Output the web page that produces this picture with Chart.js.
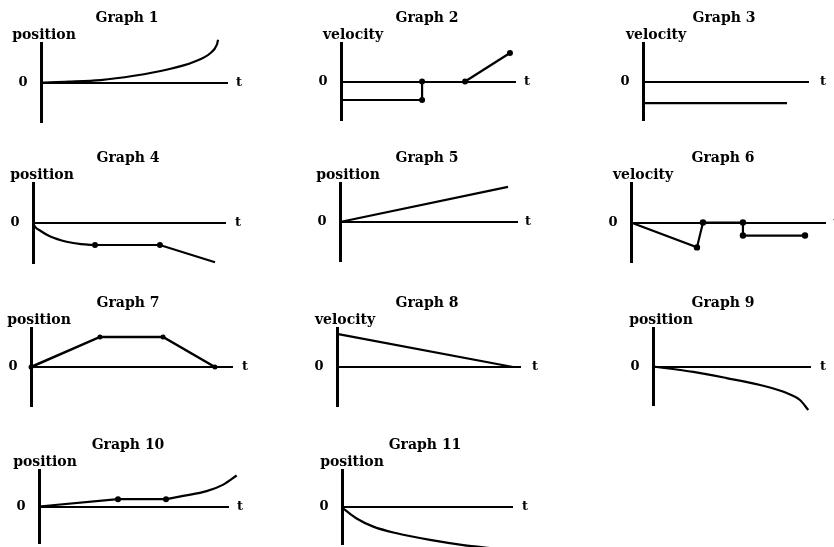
<!DOCTYPE html>
<html><head><meta charset="utf-8">
<script src="https://cdn.jsdelivr.net/npm/chart.js@4/dist/chart.umd.min.js"></script>
<style>
html,body{margin:0;padding:0;background:#fff;}
#wrap{position:relative;width:834px;height:547px;overflow:hidden;background:#fff;}
#wrap canvas{position:absolute;left:0;top:0;}
</style></head><body><div id="wrap"></div>
<script>
// ---------- DATA (t in axis units 0..10, value in -1..1) ----------
const graphTitles = ["Graph 1","Graph 2","Graph 3","Graph 4","Graph 5","Graph 6","Graph 7","Graph 8","Graph 9","Graph 10","Graph 11"];
const yAxisLabels = ["position","velocity","velocity","position","position","velocity","position","velocity","position","position","position"];
const zeroLabel = "0";
const timeLabel = "t";

const g1CurveT = [0, 1.5, 3.2, 5, 6.8, 8.2, 9.1, 9.45, 9.52];
const g1CurveY = [0, 0.02, 0.06, 0.17, 0.33, 0.52, 0.74, 0.95, 1.08];

const g2LowT = [0, 4.66, 4.66];
const g2LowY = [-0.48, -0.48, 0];
const g2RiseT = [7.13, 9.71];
const g2RiseY = [0, 0.74];
const g2DotT = [4.66, 4.66, 7.13, 9.71];
const g2DotY = [0, -0.48, 0, 0.74];

const g3T = [0, 8.73];
const g3Y = [-0.56, -0.56];

const g4CurveT = [0, 0.1, 0.4, 0.9, 1.75, 2.5, 3.23];
const g4CurveY = [0, -0.09, -0.2, -0.34, -0.47, -0.53, -0.55];
const g4LineT = [3.23, 6.61, 9.48];
const g4LineY = [-0.55, -0.55, -0.98];
const g4DotT = [3.23, 6.61];
const g4DotY = [-0.55, -0.55];

const g5T = [0, 9.49];
const g5Y = [0, 0.9];

const g6T = [0, 3.40, 3.71, 5.77, 5.77, 8.97];
const g6Y = [0, -0.63, 0, 0, -0.33, -0.33];
const g6DotT = [3.40, 3.71, 5.77, 5.77, 8.97];
const g6DotY = [-0.63, 0, 0, -0.33, -0.33];

const g7T = [0, 3.43, 6.57, 9.15];
const g7Y = [0, 0.77, 0.77, 0];
const g7DotT = [0, 3.43, 6.57, 9.15];
const g7DotY = [0, 0.77, 0.77, 0];

const g8T = [0, 9.62];
const g8Y = [0.85, 0];

const g9CurveT = [0, 2.57, 4.69, 6.82, 8.52, 9.36, 9.89];
const g9CurveY = [0, -0.14, -0.30, -0.48, -0.69, -0.87, -1.13];

const g10LineT = [0, 4.18, 6.72];
const g10LineY = [0, 0.2, 0.2];
const g10CurveT = [6.72, 7.63, 8.87, 9.75, 10.46];
const g10CurveY = [0.2, 0.29, 0.42, 0.6, 0.85];
const g10DotT = [4.18, 6.72, 10.46];
const g10DotY = [0.2, 0.2, 0.85];

const g11CurveT = [0, 0.18, 0.86, 1.84, 3.22, 5.18, 7.14, 8.9];
const g11CurveY = [0, -0.08, -0.31, -0.53, -0.71, -0.89, -1.03, -1.12];

// ---------- LAYOUT (pixel boxes of each plot: x of vertical axis, end of t axis, top, bottom) ----------
const W = 834, H = 547;
const axisBoxes = [
  [41, 227, 43, 122], [341, 515, 43, 120], [643, 808, 43, 120],
  [33, 225, 183, 263], [340, 517, 183, 261], [631, 825, 183, 262],
  [31, 232, 328, 406], [337, 520, 328, 406], [653, 810, 328, 405],
  [39, 228, 470, 545], [342, 512, 470, 544]
];
const titleCenters = [127, 427, 724, 128, 427, 723, 128, 427, 723, 128, 425];
const yLabelCenters = [44, 353, 656, 42, 348, 643, 39, 345, 661, 45, 352];
const tLabelOffsets = [12, 12, 15, 13, 11, 11, 13, 15, 13, 12, 13];

// ---------- helpers ----------
const pts = (ts, ys) => ts.map((t, i) => ({x: t, y: ys[i]}));
const lineDs = (ts, ys, curved, width) => ({
  data: pts(ts, ys), showLine: true, borderColor: '#000', borderWidth: width || 2.2,
  pointRadius: 0, clip: false, tension: 0,
  cubicInterpolationMode: curved ? 'monotone' : 'default', capBezierPoints: false
});
const dotDs = (ts, ys, r) => ({
  data: pts(ts, ys), showLine: false, pointRadius: r || 3, pointBackgroundColor: '#000',
  pointBorderColor: '#000', pointBorderWidth: 0, clip: false
});

const graphDatasets = [
  [lineDs(g1CurveT, g1CurveY, true)],
  [lineDs(g2LowT, g2LowY), lineDs(g2RiseT, g2RiseY), dotDs(g2DotT, g2DotY)],
  [lineDs(g3T, g3Y)],
  [lineDs(g4CurveT, g4CurveY, true), lineDs(g4LineT, g4LineY), dotDs(g4DotT, g4DotY)],
  [lineDs(g5T, g5Y)],
  [lineDs(g6T, g6Y), dotDs(g6DotT, g6DotY, 3.2)],
  [lineDs(g7T, g7Y, false, 2.5), dotDs(g7DotT, g7DotY, 2.5)],
  [lineDs(g8T, g8Y)],
  [lineDs(g9CurveT, g9CurveY, true)],
  [lineDs(g10LineT, g10LineY), lineDs(g10CurveT, g10CurveY, true), dotDs(g10DotT, g10DotY)],
  [lineDs(g11CurveT, g11CurveY, true)]
];

const labelPlugin = {
  id: 'graphLabels',
  afterDraw(chart, args, o) {
    const {ctx, chartArea: a, scales} = chart;
    const x0 = scales.x.getPixelForValue(0);
    const y0 = scales.y.getPixelForValue(0);
    ctx.save();
    ctx.fillStyle = '#000';
    ctx.textAlign = 'center';
    ctx.textBaseline = 'alphabetic';
    ctx.font = 'bold 14px "DejaVu Serif"';
    ctx.fillText(o.title, o.titleX, a.top - 21);
    ctx.fillText(o.yLabel, o.yLabelX, a.top - 4);
    ctx.font = 'bold 13px "DejaVu Serif"';
    ctx.textBaseline = 'middle';
    ctx.fillText(zeroLabel, x0 - 18, y0);
    ctx.fillText(timeLabel, a.right + o.tOffset, y0);
    ctx.restore();
  }
};

const wrap = document.getElementById('wrap');
graphTitles.forEach((title, i) => {
  const [x0, xEnd, yTop, yBottom] = axisBoxes[i];
  const cv = document.createElement('canvas');
  cv.width = W; cv.height = H;
  cv.style.width = W + 'px'; cv.style.height = H + 'px';
  wrap.appendChild(cv);
  new Chart(cv, {
    type: 'scatter',
    data: {datasets: graphDatasets[i]},
    options: {
      responsive: false, animation: false, events: [], devicePixelRatio: 1,
      layout: {padding: {left: x0, right: W - xEnd, top: yTop, bottom: H - yBottom}},
      plugins: {
        legend: {display: false}, tooltip: {enabled: false}, title: {display: false},
        graphLabels: {title: title, yLabel: yAxisLabels[i], titleX: titleCenters[i],
                      yLabelX: yLabelCenters[i], tOffset: tLabelOffsets[i]}
      },
      scales: {
        x: {type: 'linear', min: 0, max: 10, position: {y: 0},
            grid: {display: false, drawTicks: false}, ticks: {display: false},
            border: {display: true, color: '#000', width: 2}},
        y: {type: 'linear', min: -1, max: 1, position: {x: 0},
            grid: {display: false, drawTicks: false}, ticks: {display: false},
            border: {display: true, color: '#000', width: 3}}
      }
    },
    plugins: [labelPlugin]
  });
});
</script></body></html>
